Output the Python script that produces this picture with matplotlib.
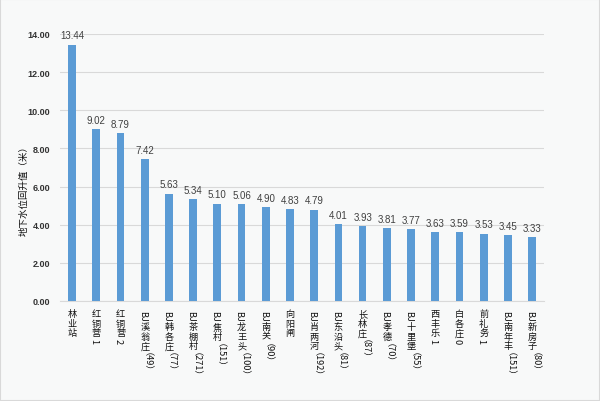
import matplotlib
matplotlib.use("Agg")
import matplotlib.pyplot as plt

plt.rcParams['font.family'] = ['Noto Sans CJK SC', 'DejaVu Sans']

# station names and water level rise (m)
stations = ["林业站", "红铜营1", "红铜营2", "BJ溪翁庄（49）", "BJ韩各庄（77）",
            "BJ茶棚村（271）", "BJ焦村（151）", "BJ龙王头（100）", "BJ南关（90）",
            "向阳闸", "BJ肖两河（192）", "BJ东沿头（81）", "长林庄（87）",
            "BJ孝德（70）", "BJ十里堡（55）", "西丰乐1", "白各庄0", "前礼务1",
            "BJ南年丰（151）", "BJ新房子（80）"]
rise = [13.44, 9.02, 8.79, 7.42, 5.63, 5.34, 5.10, 5.06, 4.90, 4.83,
        4.79, 4.01, 3.93, 3.81, 3.77, 3.63, 3.59, 3.53, 3.45, 3.33]
yticks = [0, 2, 4, 6, 8, 10, 12, 14]

BAR = "#5B9BD5"
BG = "#f8f9f9"
FS = 6.6

fig = plt.figure(figsize=(6, 4.02), dpi=100, facecolor=BG)
fig.patches.append(plt.Rectangle((0, 0), 1, 1, transform=fig.transFigure,
                                 fill=False, edgecolor="#d9d9d9", linewidth=1.5))
ax = fig.add_axes([0.1, 0.249, 0.807, 0.664])
ax.set_facecolor(BG)

x = range(len(stations))
ax.bar(x, rise, width=0.32, color=BAR, zorder=3)
for i, v in enumerate(rise):
    ax.annotate("%.2f" % v, xy=(i, v), xytext=(0, 3), textcoords="offset points",
                ha="center", va="bottom", fontsize=7, color="#404040",
                family="Liberation Sans")

ax.set_xlim(-0.5, len(stations) - 0.5)
ax.set_ylim(0, 14)
ax.set_yticks(yticks)
ax.set_yticklabels(["%.2f" % t for t in yticks], fontsize=6.5, fontweight="bold",
                   family="Liberation Sans", color="#333333")
ax.tick_params(axis="y", length=0, pad=7)
ax.tick_params(axis="x", length=0)
ax.set_xticks([])
ax.grid(axis="y", color="#d9d9d9", linewidth=0.8, zorder=0)
for s in ["top", "right", "left"]:
    ax.spines[s].set_visible(False)
ax.spines["bottom"].set_color("#d9d9d9")
fig.text(0.04, 0.53, "地下水位回升值（米）", rotation=90, fontsize=6.8,
         ha="center", va="center", color="#111111")


def is_cjk(ch):
    return ord(ch) > 0x2E80 and ch not in "（）"


# vertical labels: CJK chars upright, latin/digit runs rotated
renderer = fig.canvas.get_renderer()
pt = 72.0 / fig.dpi
for i, name in enumerate(stations):
    segs = []
    for ch in name:
        if is_cjk(ch):
            segs.append(ch)
        elif segs and not is_cjk(segs[-1][-1]):
            segs[-1] += ch
        else:
            segs.append(ch)
    off = 6.0
    for seg in segs:
        if is_cjk(seg[-1]):
            ax.annotate(seg, xy=(i, 0), xycoords=("data", "axes fraction"),
                        xytext=(0, -off), textcoords="offset points",
                        ha="center", va="top", fontsize=FS, color="#111111")
            off += FS * 1.03
        else:
            t = ax.annotate(seg, xy=(i, 0), xycoords=("data", "axes fraction"),
                            xytext=(-0.36 * FS - 1.2, -off - 0.5),
                            textcoords="offset points", rotation=-90,
                            rotation_mode="anchor", ha="left", va="baseline",
                            fontsize=FS, color="#111111")
            bb = t.get_window_extent(renderer)
            off += bb.height * pt + 1.5

fig.savefig("out.png", dpi=100, facecolor=BG)
